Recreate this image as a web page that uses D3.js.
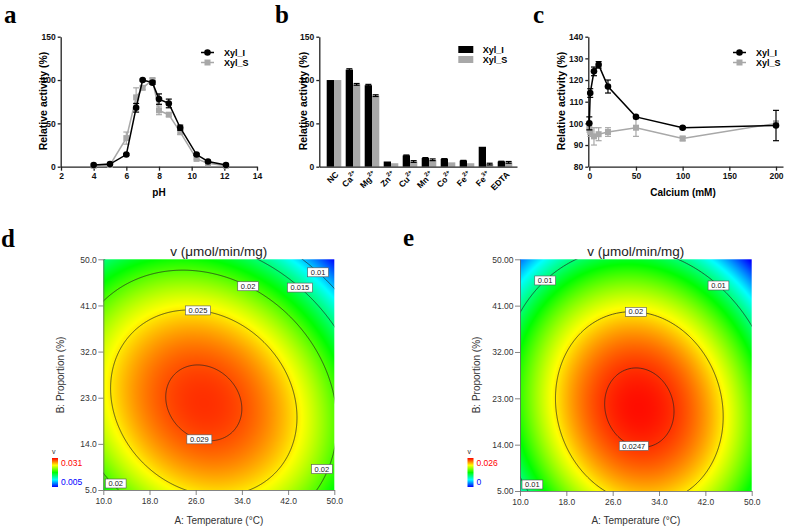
<!DOCTYPE html>
<html>
<head>
<meta charset="utf-8">
<script src="https://cdn.jsdelivr.net/npm/d3@7"></script>
<style>
body { margin: 0; background: #fff; }
svg { display: block; font-family: "Liberation Sans", Arial, sans-serif; }
.top .tick text { font-weight: bold; font-size: 8.5px; fill: #111; }
.top .domain, .top .tick line { stroke: #222; stroke-width: 1.3; }
.bot .tick text { font-size: 8.5px; fill: #333; }
.bot .domain, .bot .tick line { stroke: #666; stroke-width: 0.8; }
</style>
</head>
<body>
<svg id="fig" width="787" height="528"></svg>
<script>
// ---- panel a : pH profile
var phValues   = [4, 5, 6, 6.6, 7, 7.6, 8, 8.6, 9.3, 10.3, 11, 12.1];
var phXylI     = [2, 3, 14, 68, 100, 97, 78, 73, 45, 14, 6, 2];
var phXylIErr  = [0, 0, 1, 5, 1, 2, 6, 5, 3, 1, 1, 0];
var phXylS     = [1, 2, 33, 80, 91, 100, 65, 60, 40, 9, 4, 1];
var phXylSErr  = [0, 0, 7, 11, 2, 2, 5, 2, 3, 1, 0, 0];

// ---- panel b : metal ions
var ionNames   = ["NC", "Ca", "Mg", "Zn", "Cu", "Mn", "Co", "Fe", "Fe", "EDTA"];
var ionCharges = ["", "2+", "2+", "2+", "2+", "2+", "2+", "2+", "3+", ""];
var ionXylI    = [100, 112, 94, 6, 13, 10, 9, 7, 23, 6];
var ionXylIErr = [0, 1, 1, 0, 0.5, 0.5, 0.3, 0.3, 0, 0.3];
var ionXylS    = [100, 95, 82, 4, 6, 8, 5, 4, 3, 5];
var ionXylSErr = [0, 1, 1, 0, 1, 1, 0, 0, 1, 1];

// ---- panel c : calcium
var caConc     = [0, 1, 5, 10, 20, 50, 100, 200];
var caXylI     = [100, 114, 124, 127, 117, 103, 98, 99];
var caXylIErr  = [3, 2, 2, 1.5, 3, 0.5, 0.5, 7];
var caXylS     = [98, 96, 94, 95, 96, 98, 93, 100];
var caXylSErr  = [2, 2, 4, 3, 2, 4, 1, 1];

var seriesNames = ["Xyl_I", "Xyl_S"];

// ---- panels d / e : fitted response surfaces  [vmax, A0, B0, kA, kB, kAB]
var surfD = [0.0298, 27.4, 22, 1.89e-5, 1.5e-5, 5.3e-6];
var surfE = [0.02567, 30.6, 21.2, 2.73e-5, 1.65e-5, 4e-6];
var levelsD = [0.01, 0.015, 0.02, 0.025, 0.029];
var levelsE = [0.01, 0.02, 0.0247];
// where each contour label sits (A, B, level)
var labelsD = [[47.3, 47.6, 0.01], [44.2, 44.7, 0.015], [35.1, 44.8, 0.02], [26.4, 40, 0.025],
               [26.6, 14.6, 0.029], [12.5, 6.6, 0.02], [48.1, 9.6, 0.02]];
var labelsE = [[14.4, 45.8, 0.01], [44.2, 44.8, 0.01], [30, 40, 0.02], [29.9, 15.7, 0.0247], [12.7, 6.8, 0.01]];
var rangeD = [0.005, 0.031];
var rangeE = [0, 0.026];
var tempTicks = [10, 18, 26, 34, 42, 50];
var propTicks = [5, 14, 23, 32, 41, 50];

var svg = d3.select("#fig");
var black = "#000", grey = "#a8a8a8";

function letter(t, x, y) {
    svg.append("text").attr("x", x).attr("y", y).
        style("font-family", "'Liberation Serif', 'Times New Roman', serif").
        style("font-weight", "bold").style("font-size", "25px").text(t);
}

function yTitle(t, x, y) {
    svg.append("text").attr("transform", "translate(" + x + "," + y + ") rotate(-90)").
        attr("text-anchor", "middle").attr("dy", "0.35em").
        style("font-weight", "bold").style("font-size", "10.5px").text(t);
}

function xTitle(t, x, y) {
    svg.append("text").attr("x", x).attr("y", y).attr("text-anchor", "middle").
        attr("dy", "0.35em").style("font-weight", "bold").style("font-size", "10px").text(t);
}

function errorBars(g, xs, ys, errs, x, y, color) {
    xs.forEach(function(v, i) {
        if (!errs[i]) return;
        var cx = x(v), top = y(ys[i] + errs[i]), bot = y(ys[i] - errs[i]);
        g.append("line").attr("x1", cx).attr("x2", cx).attr("y1", top).attr("y2", bot).
            attr("stroke", color).attr("stroke-width", 1.2);
        [top, bot].forEach(function(yy) {
            g.append("line").attr("x1", cx - 3).attr("x2", cx + 3).attr("y1", yy).attr("y2", yy).
                attr("stroke", color).attr("stroke-width", 1.2);
        });
    });
}

function lineSeries(g, xs, ys, errs, x, y, color, shape) {
    var line = d3.line().x(function(d) { return x(d[0]); }).y(function(d) { return y(d[1]); });
    var pts = xs.map(function(v, i) { return [v, ys[i]]; });
    g.append("path").attr("d", line(pts)).attr("fill", "none").
        attr("stroke", color).attr("stroke-width", 1.5);
    errorBars(g, xs, ys, errs, x, y, color);
    marker(g, pts.map(function(d) { return [x(d[0]), y(d[1])]; }), color, shape);
}

function marker(g, pts, color, shape) {
    pts.forEach(function(p) {
        if (shape == "circle")
            g.append("circle").attr("cx", p[0]).attr("cy", p[1]).attr("r", 3.3).attr("fill", color);
        else
            g.append("rect").attr("x", p[0] - 3).attr("y", p[1] - 3).attr("width", 6).attr("height", 6).attr("fill", color);
    });
}

function lineLegend(x, y) {
    var g = svg.append("g");
    [[black, "circle"], [grey, "square"]].forEach(function(s, i) {
        var yy = y + i * 10;
        g.append("line").attr("x1", x).attr("x2", x + 13).attr("y1", yy).attr("y2", yy).
            attr("stroke", s[0]).attr("stroke-width", 1.5);
        marker(g, [[x + 6.5, yy]], s[0], s[1]);
        g.append("text").attr("x", x + 23).attr("y", yy).attr("dy", "0.35em").
            style("font-weight", "bold").style("font-size", "9px").text(seriesNames[i]);
    });
}

// ================= panel a
letter("a", 4, 23);
var xa = d3.scaleLinear().domain([2, 14]).range([61, 257]),
    ya = d3.scaleLinear().domain([0, 150]).range([166.7, 36.7]);
var ga = svg.append("g").attr("class", "top");
ga.append("g").attr("transform", "translate(0,166.7)").
    call(d3.axisBottom(xa).tickValues(d3.range(2, 15, 2)).tickSize(4).tickSizeOuter(0).tickPadding(2));
ga.append("g").attr("transform", "translate(60.7,0)").
    call(d3.axisLeft(ya).tickValues([0, 50, 100, 150]).tickSize(3).tickSizeOuter(0).tickPadding(2));
lineSeries(ga, phValues, phXylS, phXylSErr, xa, ya, grey, "square");
lineSeries(ga, phValues, phXylI, phXylIErr, xa, ya, black, "circle");
yTitle("Relative activity (%)", 43, 101);
xTitle("pH", 159, 192);
lineLegend(201, 52.5);

// ================= panel b
letter("b", 275, 23);
var xb = d3.scaleBand().domain(d3.range(ionNames.length)).range([324.5, 514.5]),
    yb = d3.scaleLinear().domain([0, 150]).range([166.7, 36.7]);
var gb = svg.append("g").attr("class", "top");
var bw = 7.3;
gb.selectAll(".barI").data(ionXylI).enter().append("rect").
    attr("x", function(d, i) { return xb(i) + xb.bandwidth() / 2 - bw; }).
    attr("y", function(d) { return yb(d); }).attr("width", bw).
    attr("height", function(d) { return yb(0) - yb(d); }).attr("fill", black);
gb.selectAll(".barS").data(ionXylS).enter().append("rect").
    attr("x", function(d, i) { return xb(i) + xb.bandwidth() / 2; }).
    attr("y", function(d) { return yb(d); }).attr("width", bw).
    attr("height", function(d) { return yb(0) - yb(d); }).attr("fill", grey);
var idx = d3.range(ionNames.length);
errorBars(gb, idx, ionXylI, ionXylIErr, function(i) { return xb(i) + xb.bandwidth() / 2 - bw / 2; }, yb, black);
errorBars(gb, idx, ionXylS, ionXylSErr, function(i) { return xb(i) + xb.bandwidth() / 2 + bw / 2; }, yb, black);
gb.append("g").attr("transform", "translate(0,166.7)").
    call(d3.axisBottom(d3.scaleLinear().domain([0, 1]).range([319.3, 517])).tickValues([]).tickSizeOuter(0));
gb.append("g").attr("transform", "translate(319.3,0)").
    call(d3.axisLeft(yb).tickValues([0, 50, 100, 150]).tickSize(3).tickSizeOuter(0).tickPadding(2));
ionNames.forEach(function(n, i) {
    var t = gb.append("text").
        attr("transform", "translate(" + (xb(i) + xb.bandwidth() / 2 + 3) + ",173) rotate(-45)").
        attr("text-anchor", "end").attr("dy", "0.35em").
        style("font-weight", "bold").style("font-size", "8.5px").text(n);
    if (ionCharges[i])
        t.append("tspan").attr("dy", "-4").style("font-size", "6px").text(ionCharges[i]);
});
yTitle("Relative activity (%)", 303, 101);
var lgb = svg.append("g");
[black, grey].forEach(function(c, i) {
    lgb.append("rect").attr("x", 458.3).attr("y", 46 + i * 10).attr("width", 15).attr("height", 7).attr("fill", c);
    lgb.append("text").attr("x", 482.7).attr("y", 49.5 + i * 10).attr("dy", "0.35em").
        style("font-weight", "bold").style("font-size", "9px").text(seriesNames[i]);
});

// ================= panel c
letter("c", 533, 23);
var xc = d3.scaleLinear().domain([0, 207.5]).range([589.3, 783]),
    yc = d3.scaleLinear().domain([80, 140]).range([166.7, 36.7]);
var gc = svg.append("g").attr("class", "top");
gc.append("g").attr("transform", "translate(0,166.7)").
    call(d3.axisBottom(xc).tickValues([0, 50, 100, 150, 200]).tickSize(4).tickSizeOuter(0).tickPadding(2));
gc.append("g").attr("transform", "translate(588.3,0)").
    call(d3.axisLeft(yc).tickValues(d3.range(80, 141, 10)).tickSize(3).tickSizeOuter(0).tickPadding(2));
lineSeries(gc, caConc, caXylS, caXylSErr, xc, yc, grey, "square");
lineSeries(gc, caConc, caXylI, caXylIErr, xc, yc, black, "circle");
yTitle("Relative activity (%)", 561.7, 101);
xTitle("Calcium (mM)", 683, 192);
lineLegend(733, 52.5);

// ================= panels d, e : contour maps
function surface(p, A, B) {
    var dA = A - p[1], dB = B - p[2];
    return p[0] - p[3] * dA * dA - p[4] * dB * dB - p[5] * dA * dB;
}

function rainbow(lo, hi) {
    return d3.scaleLinear().domain(d3.range(5).map(function(i) { return lo + (hi - lo) * i / 4; })).
        range(["#0000ff", "#00ffff", "#00ff00", "#ffff00", "#ff0000"]).clamp(true);
}

function contourPanel(opt) {
    var x0 = opt.x0, x1 = opt.x1, y0 = opt.y0, y1 = opt.y1;
    var w = Math.round(x1 - x0), h = Math.round(y1 - y0);
    var x = d3.scaleLinear().domain([10, 50]).range([x0, x1]),
        y = d3.scaleLinear().domain([5, 50]).range([y1, y0]);
    var color = rainbow(opt.range[0], opt.range[1]);
    var g = svg.append("g").attr("class", "bot");

    // colour field
    var canvas = document.createElement("canvas");
    canvas.width = w; canvas.height = h;
    var ctx = canvas.getContext("2d"), img = ctx.createImageData(w, h);
    for (var j = 0; j < h; j++) {
        for (var i = 0; i < w; i++) {
            var c = d3.rgb(color(surface(opt.surf, x.invert(x0 + i + 0.5), y.invert(y0 + j + 0.5))));
            var k = (j * w + i) * 4;
            img.data[k] = c.r; img.data[k + 1] = c.g; img.data[k + 2] = c.b; img.data[k + 3] = 255;
        }
    }
    ctx.putImageData(img, 0, 0);
    g.append("image").attr("x", x0).attr("y", y0).attr("width", x1 - x0).attr("height", y1 - y0).
        attr("preserveAspectRatio", "none").attr("href", canvas.toDataURL());

    // contour lines
    var m = 4, gw = w + 2 * m, gh = h + 2 * m, vals = new Array(gw * gh);
    for (var jj = 0; jj < gh; jj++)
        for (var ii = 0; ii < gw; ii++)
            vals[jj * gw + ii] = surface(opt.surf, x.invert(x0 - m + ii), y.invert(y0 - m + jj));
    var conts = d3.contours().size([gw, gh]).thresholds(opt.levels)(vals);
    var path = d3.geoPath(d3.geoIdentity().translate([x0 - m - 0.5, y0 - m - 0.5]));
    var clipId = "clip" + opt.id;
    svg.append("clipPath").attr("id", clipId).append("rect").
        attr("x", x0).attr("y", y0).attr("width", x1 - x0).attr("height", y1 - y0);
    g.append("g").attr("clip-path", "url(#" + clipId + ")").selectAll("path").data(conts).enter().
        append("path").attr("d", path).attr("fill", "none").attr("stroke", "#222").attr("stroke-width", 0.7);

    // contour labels, slid along the ray from the optimum onto their line
    opt.labels.forEach(function(l) {
        var p = opt.surf, dA = l[0] - p[1], dB = l[1] - p[2];
        var q = p[3] * dA * dA + p[4] * dB * dB + p[5] * dA * dB;
        var t = Math.sqrt((p[0] - l[2]) / q);
        var txt = String(l[2]), tw = txt.length * 4.2 + 4;
        var px = Math.max(x0 + tw / 2 + 2, Math.min(x1 - tw / 2 - 2, x(p[1] + t * dA))),
            py = Math.max(y0 + 6, Math.min(y1 - 6.5, y(p[2] + t * dB)));
        g.append("rect").attr("x", px - tw / 2).attr("y", py - 4.5).attr("width", tw).attr("height", 9).
            attr("fill", "#fff").attr("stroke", "#555").attr("stroke-width", 0.6);
        g.append("text").attr("x", px).attr("y", py).attr("dy", "0.35em").attr("text-anchor", "middle").
            style("font-size", "7.5px").attr("fill", "#222").text(txt);
    });

    // axes
    g.append("g").attr("transform", "translate(0," + y1 + ")").
        call(d3.axisBottom(x).tickValues(tempTicks).tickFormat(d3.format(".1f")).tickSize(5).tickSizeOuter(0).tickPadding(3));
    g.append("g").attr("transform", "translate(" + x0 + ",0)").
        call(d3.axisLeft(y).tickValues(propTicks).tickFormat(d3.format(opt.yfmt)).tickSize(5).tickSizeOuter(0).tickPadding(1.5));

    svg.append("text").attr("x", (x0 + x1) / 2).attr("y", 251).attr("dy", "0.35em").attr("text-anchor", "middle").
        style("font-size", "13.5px").attr("fill", "#222").text("v (\u03bcmol/min/mg)");
    svg.append("text").attr("x", (x0 + x1) / 2).attr("y", 520).attr("dy", "0.35em").attr("text-anchor", "middle").
        style("font-size", "10px").attr("fill", "#333").text("A: Temperature (\u00b0C)");
    svg.append("text").attr("transform", "translate(" + opt.ylabX + ",375) rotate(-90)").attr("dy", "0.35em").
        attr("text-anchor", "middle").style("font-size", "10px").attr("fill", "#333").text("B: Proportion (%)");

    // colour key
    var grad = svg.append("defs").append("linearGradient").attr("id", "grad" + opt.id).
        attr("x1", 0).attr("x2", 0).attr("y1", 1).attr("y2", 0);
    d3.range(5).forEach(function(i) {
        grad.append("stop").attr("offset", i / 4).attr("stop-color", color.range()[i]);
    });
    svg.append("rect").attr("x", opt.keyX).attr("y", 458).attr("width", 6).attr("height", 29).
        attr("fill", "url(#grad" + opt.id + ")");
    svg.append("text").attr("x", opt.keyX).attr("y", 454).style("font-size", "7px").attr("fill", "#333").text("v");
    svg.append("text").attr("x", opt.keyX + 9).attr("y", 463).attr("dy", "0.35em").
        style("font-size", "8.5px").attr("fill", "#ff0000").text(String(opt.range[1]));
    svg.append("text").attr("x", opt.keyX + 9).attr("y", 482).attr("dy", "0.35em").
        style("font-size", "8.5px").attr("fill", "#0000ff").text(String(opt.range[0]));
}

letter("d", 1, 247);
contourPanel({id: "d", x0: 103.3, x1: 334.3, y0: 259.3, y1: 490, surf: surfD, levels: levelsD,
    labels: labelsD, range: rangeD, yfmt: ".1f", ylabX: 60, keyX: 52});
letter("e", 403, 246);
contourPanel({id: "e", x0: 520, x1: 751.7, y0: 259.3, y1: 491, surf: surfE, levels: levelsE,
    labels: labelsE, range: rangeE, yfmt: ".2f", ylabX: 476, keyX: 467.5});
</script>
</body>
</html>
